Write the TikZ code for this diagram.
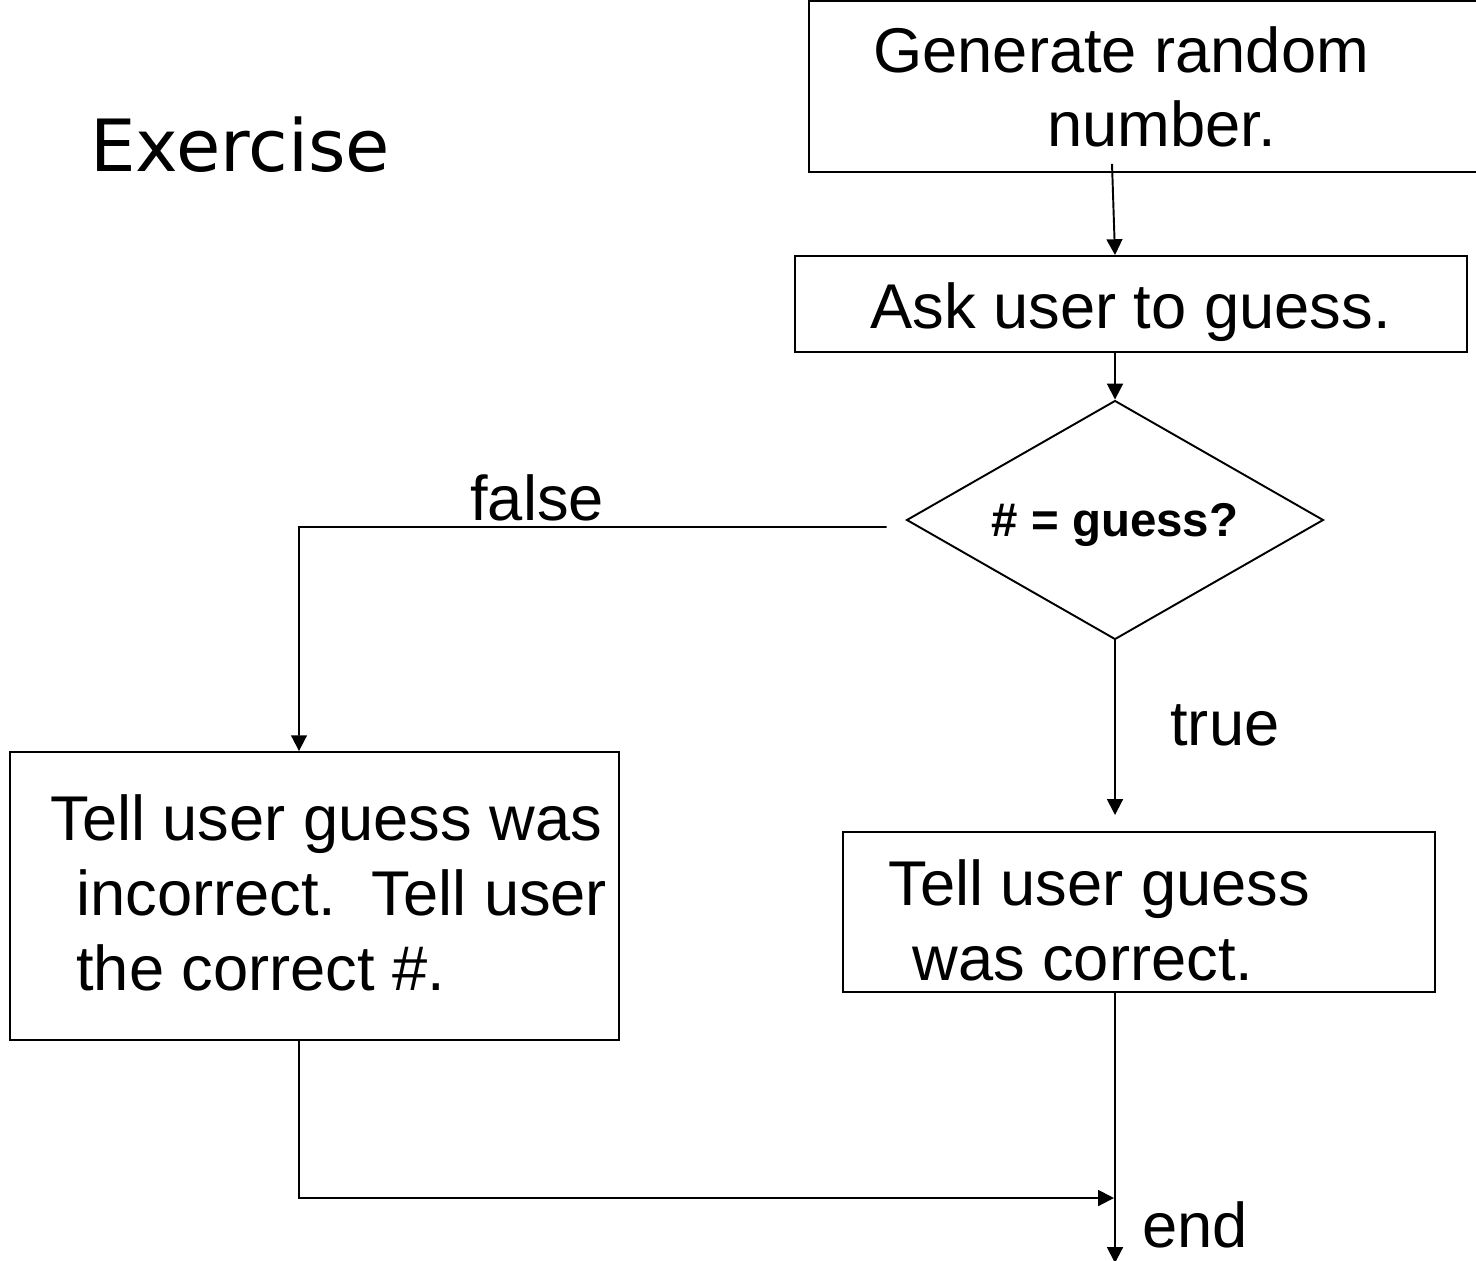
\documentclass[tikz,border=0pt]{standalone}
\usepackage{fontspec}
\setmainfont{Liberation Sans}
\newfontfamily\exfont{DejaVu Sans}
\usepackage{tikz}
\usetikzlibrary{arrows.meta,shapes.geometric,positioning}
\tikzstyle{process} = [rectangle, draw=black, line width=1.1pt, inner sep=0pt]
\tikzstyle{decision} = [diamond, draw=black, line width=1.1pt, inner sep=0pt, aspect=1.745, font=\fontsize{27}{32}\selectfont\bfseries, text depth=0pt]
\tikzstyle{txt} = [inner sep=0pt, anchor=base west, font=\fontsize{36}{43}\selectfont]
\tikzstyle{arrow} = [line width=1.1pt,-{Triangle[length=9pt,width=9pt]}]

\begin{document}
\begin{tikzpicture}[x=0.02cm, y=-0.02cm]
    \useasboundingbox (0,0) rectangle (1476,1260);
    % title
    \node[inner sep=0pt, anchor=base west, font=\exfont\fontsize{41}{48}\selectfont] (title) at (90,172) {Exercise};
    % boxes
    \node[process, minimum width=13.42cm, minimum height=3.42cm] (gen) at (1144.5,86.5) {};
    \node[process, minimum width=13.44cm, minimum height=1.92cm] (ask) at (1131,304) {};
    \node[decision, minimum width=8.34cm, minimum height=4.78cm] (test) at (1115,520) {\# = guess?};
    \node[process, minimum width=12.18cm, minimum height=5.76cm] (wrong) at (314.5,896) {};
    \node[process, minimum width=11.84cm, minimum height=3.2cm] (right) at (1139,912) {};
    % box texts
    \node[txt] (genA) at (873,73) {Generate random};
    \node[txt] (genB) at (1047,147) {number.};
    \node[txt] (askA) at (870,328) {Ask user to guess.};
    \node[txt] (wrongA) at (50,840) {Tell user guess was};
    \node[txt] (wrongB) at (76,915) {incorrect.\ \ Tell user};
    \node[txt] (wrongC) at (76,990) {the correct \#.};
    \node[txt] (rightA) at (888,905) {Tell user guess};
    \node[txt] (rightB) at (912,980) {was correct.};
    % branch labels
    \node[txt] (no) at (470,520) {false};
    \node[txt] (yes) at (1170,745) {true};
    \node[txt] (stop) at (1142,1247) {end};
    % connector points
    \coordinate (fork) at (299,527);
    \coordinate (truetip) at (1115,815);
    \coordinate (merge) at (1114,1198);
    \coordinate (endtip) at (1115,1263);
    % connectors
    \draw[arrow] ([xshift=-0.65cm,yshift=0.18cm]gen.south) -- ([xshift=-0.32cm]ask.north);
    \draw[arrow] (ask.south -| test.north) -- (test.north);
    \draw[arrow] ([xshift=-0.38cm,yshift=-0.14cm]test.west) -- (fork) -- (fork |- wrong.north);
    \draw[arrow] (test.south) -- (truetip);
    \draw[arrow] (right.south -| test.south) -- (endtip);
    \draw[arrow] (fork |- wrong.south) |- (merge);
\end{tikzpicture}
\end{document}
